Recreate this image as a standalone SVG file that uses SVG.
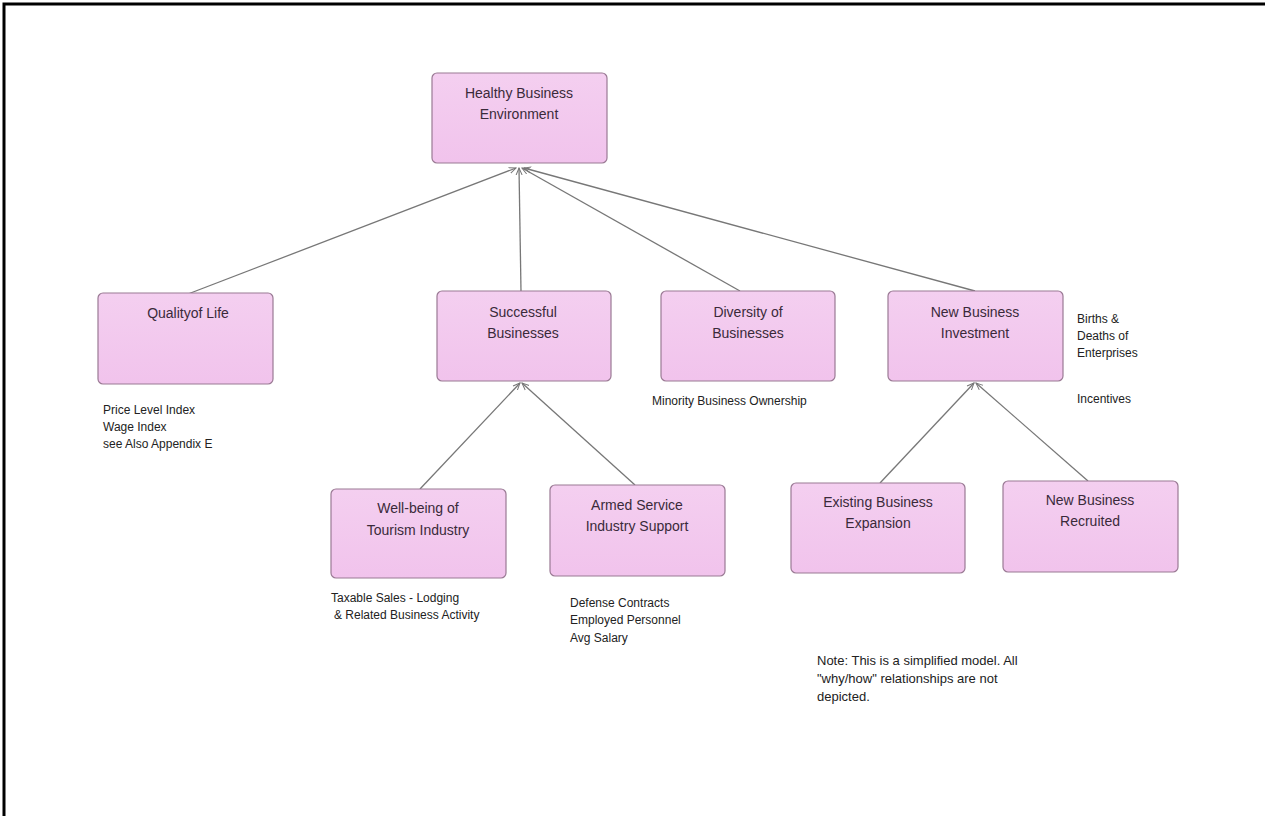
<svg xmlns="http://www.w3.org/2000/svg" width="1265" height="816" viewBox="0 0 1265 816">
<defs>
<linearGradient id="g" x1="0" y1="0" x2="0" y2="1">
<stop offset="0" stop-color="#f4cff0"/>
<stop offset="1" stop-color="#f1c3ec"/>
</linearGradient>
<marker id="ah" markerWidth="8" markerHeight="8" refX="7" refY="4" orient="auto" markerUnits="userSpaceOnUse">
<path d="M0,1 L7,4 L0,7" fill="none" stroke="#777" stroke-width="1"/>
</marker>
<style>
.box{fill:url(#g);stroke:#9a7a94;stroke-width:1.2}
.t{font-family:"Liberation Sans",Arial,sans-serif;font-size:14px;fill:#3a2a3a;text-anchor:middle}
.l{font-family:"Liberation Sans",Arial,sans-serif;font-size:12px;fill:#222}
.c{stroke:#777;stroke-width:1.3;fill:none;marker-end:url(#ah)}
</style>
</defs>
<rect width="1265" height="816" fill="#fff"/>
<path d="M4,816 V4 H1265" fill="none" stroke="#000" stroke-width="3"/>
<g id="connectors">
<line class="c" x1="188" y1="294" x2="516" y2="168"/>
<line class="c" x1="521" y1="291" x2="519" y2="168"/>
<line class="c" x1="740" y1="291" x2="522" y2="168"/>
<line class="c" x1="975" y1="291" x2="524" y2="168"/>
<line class="c" x1="420" y1="489" x2="520" y2="383"/>
<line class="c" x1="635" y1="485" x2="522" y2="383"/>
<line class="c" x1="880" y1="483" x2="974" y2="383"/>
<line class="c" x1="1088" y1="481" x2="976" y2="383"/>
</g>
<g id="n-healthy"><rect class="box" x="432" y="73" width="175" height="90" rx="5"/><text class="t" x="519" y="98">Healthy Business</text><text class="t" x="519" y="119">Environment</text></g>
<g id="n-quality"><rect class="box" x="98" y="293" width="175" height="91" rx="5"/><text class="t" x="188" y="318">Qualityof Life</text></g>
<g id="n-successful"><rect class="box" x="437" y="291" width="174" height="90" rx="5"/><text class="t" x="523" y="317">Successful</text><text class="t" x="523" y="338">Businesses</text></g>
<g id="n-diversity"><rect class="box" x="661" y="291" width="174" height="90" rx="5"/><text class="t" x="748" y="317">Diversity of</text><text class="t" x="748" y="338">Businesses</text></g>
<g id="n-newinv"><rect class="box" x="888" y="291" width="175" height="90" rx="5"/><text class="t" x="975" y="317">New Business</text><text class="t" x="975" y="338">Investment</text></g>
<g id="n-tourism"><rect class="box" x="331" y="489" width="175" height="89" rx="5"/><text class="t" x="418" y="513">Well-being of</text><text class="t" x="418" y="535">Tourism Industry</text></g>
<g id="n-armed"><rect class="box" x="550" y="485" width="175" height="91" rx="5"/><text class="t" x="637" y="510">Armed Service</text><text class="t" x="637" y="531">Industry Support</text></g>
<g id="n-existing"><rect class="box" x="791" y="483" width="174" height="90" rx="5"/><text class="t" x="878" y="507">Existing Business</text><text class="t" x="878" y="528">Expansion</text></g>
<g id="n-recruited"><rect class="box" x="1003" y="481" width="175" height="91" rx="5"/><text class="t" x="1090" y="505">New Business</text><text class="t" x="1090" y="526">Recruited</text></g>
<g id="labels">
<text class="l" x="103" y="414">Price Level Index</text>
<text class="l" x="103" y="431">Wage Index</text>
<text class="l" x="103" y="448">see Also Appendix E</text>
<text class="l" x="652" y="405">Minority Business Ownership</text>
<text class="l" x="1077" y="323">Births &amp;</text>
<text class="l" x="1077" y="340">Deaths of</text>
<text class="l" x="1077" y="357">Enterprises</text>
<text class="l" x="1077" y="403">Incentives</text>
<text class="l" x="331" y="602">Taxable Sales - Lodging</text>
<text class="l" x="334" y="619">&amp; Related Business Activity</text>
<text class="l" x="570" y="607">Defense Contracts</text>
<text class="l" x="570" y="624">Employed Personnel</text>
<text class="l" x="570" y="642">Avg Salary</text>
<text class="l" x="817" y="665" style="font-size:13px">Note: This is a simplified model. All</text>
<text class="l" x="817" y="683" style="font-size:13px">"why/how" relationships are not</text>
<text class="l" x="817" y="701" style="font-size:13px">depicted.</text>
</g>
</svg>
